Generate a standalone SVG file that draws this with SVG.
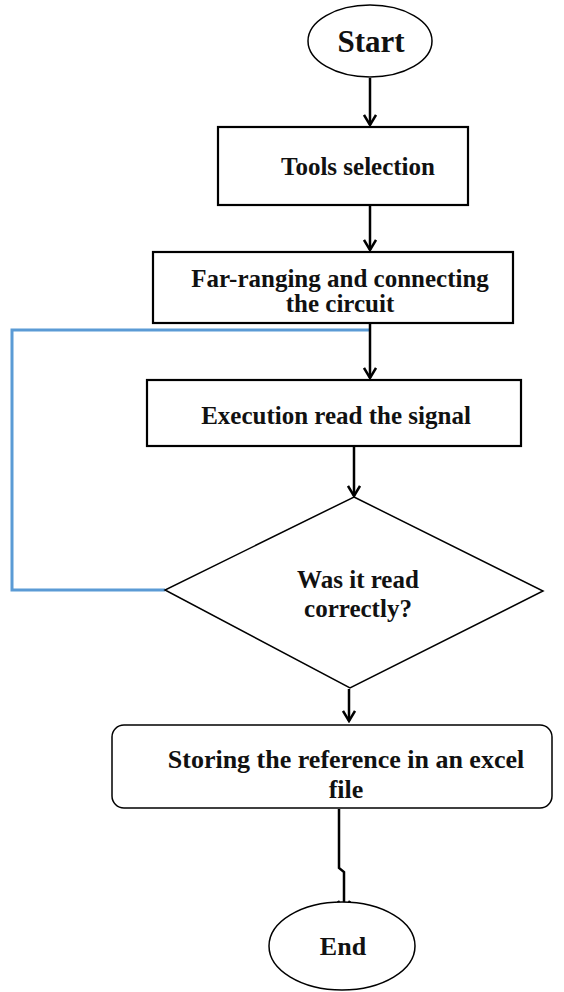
<svg xmlns="http://www.w3.org/2000/svg" width="564" height="992" viewBox="0 0 564 992">
  <style>
    .shape { fill: #ffffff; stroke: #000000; stroke-width: 2.2; }
    .thin { fill: #ffffff; stroke: #000000; stroke-width: 1.5; }
    .label { font-family: "Liberation Serif", "Times New Roman", serif; font-weight: bold; fill: #111111; text-anchor: middle; font-size: 25px; }
    .big { font-size: 31px; }
    .mid { font-size: 26px; }
    .wire { fill: none; stroke: #000000; stroke-width: 2.5; }
    .loop { fill: none; stroke: #5b9bd5; stroke-width: 3; }
  </style>
  <defs>
    <!-- open chevron head, drawn along +x so orient="auto" points it down the line -->
    <marker id="arrow" markerWidth="14" markerHeight="14" refX="12" refY="7" orient="auto" markerUnits="userSpaceOnUse" viewBox="0 0 14 14">
      <path d="M2,1 L12,7 L2,13" fill="none" stroke="#000000" stroke-width="2.5"/>
    </marker>
  </defs>
  <rect width="564" height="992" fill="#ffffff"/>

  <g id="connectors">
    <path class="loop" d="M370,330 H12 V590 H165"/>
    <path class="wire" d="M370,78 V125" marker-end="url(#arrow)"/>
    <path class="wire" d="M370,206 V250" marker-end="url(#arrow)"/>
    <path class="wire" d="M370,323 V378" marker-end="url(#arrow)"/>
    <path class="wire" d="M354,447 V496" marker-end="url(#arrow)"/>
    <path class="wire" d="M349,689 V721" marker-end="url(#arrow)"/>
    <path class="wire" d="M339,809 V868 L344,872 V911" marker-end="url(#arrow)"/>
  </g>

  <g id="start">
    <ellipse class="thin" cx="370" cy="41" rx="62" ry="36"/>
    <text class="label big" x="371" y="52">Start</text>
  </g>

  <g id="tools">
    <rect class="shape" x="218" y="127" width="250" height="78"/>
    <text class="label" x="358" y="175">Tools selection</text>
  </g>

  <g id="farranging">
    <rect class="shape" x="153" y="252" width="360" height="71"/>
    <text class="label" x="340" y="287">Far-ranging and connecting</text>
    <text class="label" x="340" y="312">the circuit</text>
  </g>

  <g id="execution">
    <rect class="shape" x="147" y="380" width="374" height="66"/>
    <text class="label" x="336" y="424">Execution read the signal</text>
  </g>

  <g id="decision">
    <polygon class="thin" points="354,497 543,591 350,688 165,590"/>
    <text class="label" x="358" y="588">Was it read</text>
    <text class="label" x="358" y="617">correctly?</text>
  </g>

  <g id="storing">
    <rect class="thin" x="112" y="725" width="440" height="83" rx="12"/>
    <text class="label mid" x="346" y="768">Storing the reference in an excel</text>
    <text class="label mid" x="346" y="798">file</text>
  </g>

  <g id="end">
    <ellipse class="thin" cx="342" cy="946" rx="73" ry="44"/>
    <text class="label mid" x="343" y="955">End</text>
  </g>
</svg>
